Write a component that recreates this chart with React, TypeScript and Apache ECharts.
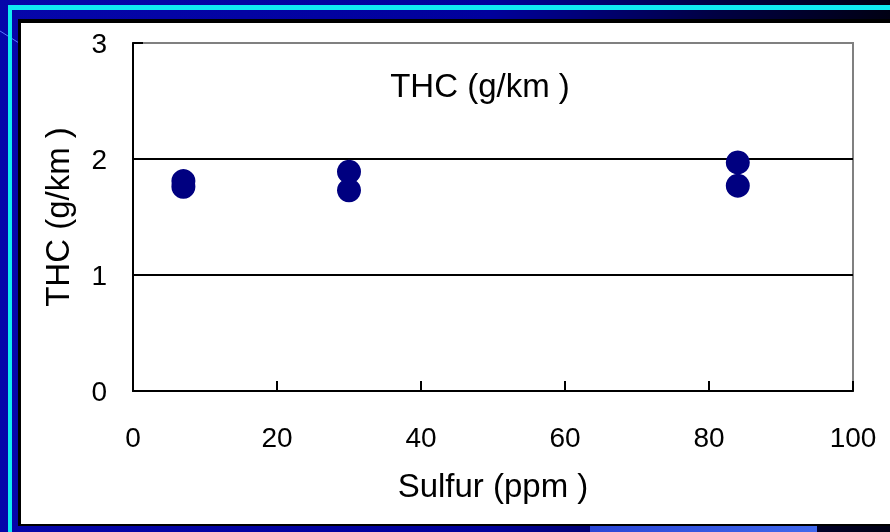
import React, { useEffect, useRef } from "react";
import * as echarts from "echarts";

const sulfurPpm: number[] = [7, 7, 30, 30, 84, 84];
const thcGkm: number[] = [1.81, 1.76, 1.89, 1.73, 1.97, 1.77];
const xTicks = { min: 0, max: 100, interval: 20 };
const yTicks = { min: 0, max: 3, interval: 1 };
const chartTitle = "THC (g/km )";
const xName = "Sulfur (ppm )";
const yName = "THC (g/km )";

const FONT = "'Liberation Sans', Arial, sans-serif";

export default function App() {
  const ref = useRef<HTMLDivElement>(null);
  useEffect(() => {
    if (!ref.current) return;
    const chart = echarts.init(ref.current, undefined, { renderer: "svg" });
    const points = sulfurPpm.map((x, i) => [x, thcGkm[i]]);
    chart.setOption({
      animation: false,
      backgroundColor: "transparent",
      textStyle: { fontFamily: FONT },
      grid: {
        left: 133,
        right: 37,
        top: 43,
        bottom: 141,
        show: true,
        borderColor: "#808080",
        borderWidth: 2,
        backgroundColor: "transparent",
        z: 0,
      },
      graphic: [
        {
          type: "rect",
          z: -10,
          silent: true,
          shape: { x: 0, y: 0, width: 890, height: 532 },
          style: {
            fill: new echarts.graphic.LinearGradient(0, 0, 1, 0, [
              { offset: 0, color: "#0606aa" },
              { offset: 0.55, color: "#00009c" },
              { offset: 0.8, color: "#000044" },
              { offset: 1, color: "#000014" },
            ]),
          },
        },
        {
          type: "rect",
          z: -9,
          silent: true,
          shape: { x: 590, y: 526, width: 227, height: 6 },
          style: {
            fill: new echarts.graphic.LinearGradient(0, 0, 1, 0, [
              { offset: 0, color: "#2a46d6" },
              { offset: 1, color: "#4068ec" },
            ]),
          },
        },
        {
          type: "line",
          z: -9,
          silent: true,
          shape: { x1: 0, y1: 31, x2: 19, y2: 43 },
          style: { stroke: "#5a78ff", lineWidth: 1 },
        },
        {
          type: "rect",
          z: -9,
          silent: true,
          shape: { x: 8, y: 5, width: 882, height: 5, r: [2, 0, 0, 0] },
          style: { fill: "#10eaf2" },
        },
        {
          type: "rect",
          z: -9,
          silent: true,
          shape: { x: 8, y: 5, width: 4, height: 527 },
          style: { fill: "#10eaf2" },
        },
        {
          type: "rect",
          z: -8,
          silent: true,
          shape: { x: 18, y: 19, width: 872, height: 507 },
          style: { fill: "#000000" },
        },
        {
          type: "rect",
          z: -7,
          silent: true,
          shape: { x: 21, y: 23, width: 869, height: 501 },
          style: { fill: "#ffffff" },
        },
        {
          type: "text",
          z: 10,
          x: 480,
          y: 85,
          style: {
            text: chartTitle,
            fontFamily: FONT,
            fontSize: 33,
            fill: "#000",
            align: "center",
            verticalAlign: "middle",
          },
        },
      ],
      xAxis: {
        type: "value",
        z: 3,
        min: xTicks.min,
        max: xTicks.max,
        interval: xTicks.interval,
        name: xName,
        nameLocation: "middle",
        nameGap: 78,
        nameTextStyle: { fontFamily: FONT, fontSize: 33, color: "#000" },
        axisLine: { show: true, lineStyle: { color: "#000", width: 2 } },
        axisTick: { show: true, inside: true, length: 10, lineStyle: { color: "#000", width: 2 } },
        axisLabel: { fontFamily: FONT, fontSize: 28, color: "#000", margin: 32 },
        splitLine: { show: false },
      },
      yAxis: {
        type: "value",
        z: 3,
        min: yTicks.min,
        max: yTicks.max,
        interval: yTicks.interval,
        name: yName,
        nameLocation: "middle",
        nameGap: 59,
        nameTextStyle: { fontFamily: FONT, fontSize: 33, color: "#000" },
        axisLine: { show: true, lineStyle: { color: "#000", width: 2 } },
        axisTick: { show: true, inside: true, length: 10, lineStyle: { color: "#000", width: 2 } },
        axisLabel: { fontFamily: FONT, fontSize: 28, color: "#000", margin: 26 },
        splitLine: {
          show: true,
          lineStyle: { color: ["#000", "#000", "#000", "#808080"], width: 2 },
        },
      },
      series: [
        {
          type: "scatter",
          data: points,
          symbol: "circle",
          symbolSize: 24,
          itemStyle: { color: "#000080", opacity: 1 },
          z: 5,
        },
      ],
    });
    return () => chart.dispose();
  }, []);
  return (
    <div
      ref={ref}
      style={{ position: "fixed", left: 0, top: 0, width: 890, height: 532 }}
    />
  );
}
